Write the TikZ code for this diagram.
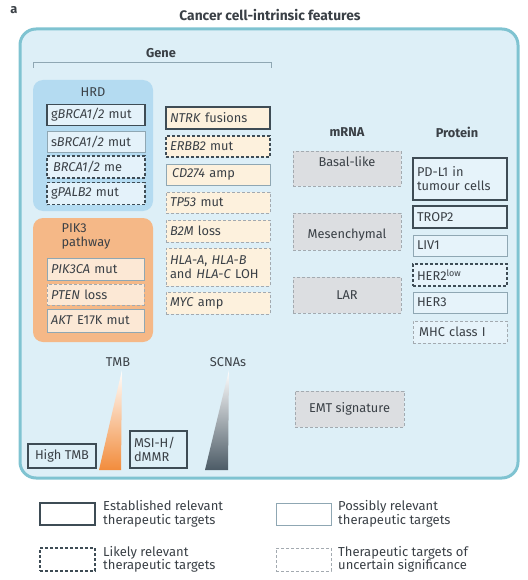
\documentclass[tikz,border=0pt]{standalone}
\usepackage{fontspec}
\setmainfont{Fira Sans}
\usetikzlibrary{shadings}
\definecolor{txt}{HTML}{3A4046}
\definecolor{dk}{HTML}{3E4C55}
\definecolor{lt}{HTML}{8FA7B3}
\definecolor{lg}{HTML}{A3AAB0}
\definecolor{bgfill}{HTML}{DDEFF7}
\definecolor{bgdraw}{HTML}{7FC3D1}
\definecolor{hrdfill}{HTML}{B4DBF1}
\definecolor{blbox}{HTML}{E4F2FA}
\definecolor{orbox}{HTML}{FDF1DD}
\definecolor{pkfill}{HTML}{F5B887}
\definecolor{pkbox}{HTML}{FCE8D5}
\definecolor{gybox}{HTML}{DCDEE1}
\definecolor{prbox}{HTML}{E6F3FA}
\definecolor{tmbor}{HTML}{F28C3C}
\definecolor{scna}{HTML}{4C5B66}
\tikzset{
  every node/.style={text=txt, font=\fontsize{12.8}{14}\selectfont, inner ysep=1pt, inner xsep=4pt},
  tgest/.style={draw=dk, line width=1.6pt},
  tgpos/.style={draw=lt, line width=0.8pt},
  tglik/.style={draw=dk, line width=1.6pt, dash pattern=on 3pt off 2pt},
  tgunc/.style={draw=lg, line width=0.7pt, dash pattern=on 3pt off 2pt},
  lbox/.style n args={2}{text width=#1, minimum height=#2, align=left},
  cbox/.style n args={2}{minimum width=#1, minimum height=#2, align=center},
  head/.style={font=\fontsize{12.8}{14}\selectfont\bfseries},
  legt/.style={anchor=west, align=left, font=\fontsize{13}{13.5}\selectfont, inner xsep=0pt},
}
\begin{document}
\begin{tikzpicture}[x=1pt,y=-1pt]
\useasboundingbox (0,0) rectangle (527,580);
% title
\node[head, inner sep=0pt] (lbl) at (14,10) {a};
\node[head, font=\fontsize{13.8}{15}\selectfont\bfseries] (title) at (270,15) {Cancer cell-intrinsic features};
% outer frame
\draw[bgdraw, fill=bgfill, line width=3pt, rounded corners=16pt] (20,29) rectangle (518,478);
% gene bracket
\node[head] (gene) at (161,53) {Gene};
\coordinate (bl) at (33,68);
\coordinate (br) at (271,68);
\draw[lt, line width=0.8pt] (bl) -- ++(0,-6) -| (br);
% HRD group
\fill[hrdfill, rounded corners=10pt] (33,80) rectangle (153,211);
\node (hrd) at (93,92) {HRD};
\node[tgest, fill=blbox, lbox={90pt}{21pt}] (gbrca) at (96,115) {g\textit{BRCA1/2} mut};
\node[tgpos, fill=blbox, lbox={90pt}{21pt}] (sbrca) at (96,141.5) {s\textit{BRCA1/2} mut};
\node[tglik, fill=blbox, lbox={90pt}{22pt}] (brcame) at (96,167) {\,\textit{BRCA1/2} me};
\node[tglik, fill=blbox, lbox={90pt}{22pt}] (palb) at (96,193.5) {g\textit{PALB2} mut};
% PIK3 group
\fill[pkfill, rounded corners=10pt] (33,218) rectangle (153,342);
\node[align=left] (pik3) at (86,236) {PIK3\\pathway};
\node[tgpos, fill=pkbox, lbox={89pt}{22pt}] (pik3ca) at (95.5,269) {\textit{PIK3CA} mut};
\node[tgunc, fill=pkbox, lbox={89pt}{21pt}] (pten) at (95.5,294.5) {\textit{PTEN} loss};
\node[tgpos, fill=pkbox, lbox={89pt}{23pt}] (akt) at (95.5,320.5) {\textit{AKT} E17K mut};
% gene column
\node[tgest, fill=orbox, lbox={96pt}{22pt}] (ntrk) at (218,118) {\textit{NTRK} fusions};
\node[tglik, fill=orbox, lbox={96pt}{21pt}] (erbb2) at (218,146.5) {\textit{ERBB2} mut};
\node[tgpos, fill=orbox, lbox={96pt}{21pt}] (cd274) at (218,174.5) {\,\textit{CD274} amp};
\node[tgunc, fill=orbox, lbox={96pt}{21pt}] (tp53) at (218,202.5) {\textit{TP53} mut};
\node[tgunc, fill=orbox, lbox={96pt}{22pt}] (b2m) at (218,231) {\textit{B2M} loss};
\node[tgunc, fill=orbox, lbox={96pt}{38pt}] (hla) at (218,267) {\textit{HLA-A}, \textit{HLA-B}\\and \textit{HLA-C} LOH};
\node[tgunc, fill=orbox, lbox={96pt}{22pt}] (myc) at (218,303) {\textit{MYC} amp};
% mRNA
\node[head] (mrna) at (347,132) {mRNA};
\node[tgunc, fill=gybox, cbox={108pt}{35pt}] (basal) at (347,168.5) {};
\node (basalt) at (347,162) {Basal-like};
\node[tgunc, fill=gybox, cbox={108pt}{37pt}] (mes) at (347,231.5) {};
\node (mest) at (347,235) {Mesenchymal};
\node[tgunc, fill=gybox, cbox={108pt}{36pt}] (lar) at (347,295) {LAR};
\node[tgunc, fill=gybox, cbox={109pt}{36pt}] (emt) at (349.5,409) {EMT signature};
% protein
\node[head] (prot) at (457,132) {Protein};
\node[tgest, fill=prbox, lbox={86pt}{42pt}] (pdl1) at (460,179) {PD-L1 in\\tumour cells};
\node[tgest, fill=prbox, lbox={86pt}{22pt}] (trop2) at (460,217) {TROP2};
\node[tgpos, fill=prbox, lbox={86pt}{21pt}] (liv1) at (460,245.5) {LIV1};
\node[tglik, fill=prbox, lbox={86pt}{22pt}] (her2) at (460,275) {HER2\textsuperscript{low}};
\node[tgpos, fill=prbox, lbox={86pt}{21pt}] (her3) at (460,302.5) {HER3};
\node[tgunc, fill=prbox, lbox={86pt}{22pt}] (mhc) at (460,332) {\,MHC class I};
% TMB / SCNAs
\node (tmb) at (118,362) {TMB};
\node (scnas) at (228,362) {SCNAs};
\shade[top color=white, bottom color=tmbor] (122,370) -- (121,470) -- (99,470) -- cycle;
\shade[top color=white, bottom color=scna] (229,370) -- (228,470) -- (205,470) -- cycle;
\node[tgest, cbox={68pt}{24pt}, inner xsep=2pt] (htmb) at (62,456) {High TMB};
\node[tgest, lbox={49pt}{37pt}] (msi) at (158.5,449.5) {MSI-H/\\dMMR};
% legend
\node[tgest, cbox={55pt}{22pt}] (lg1) at (67.5,514) {};
\node[legt] (lg1t) at (103,514) {Established relevant\\therapeutic targets};
\node[tgpos, cbox={55pt}{22pt}] (lg2) at (303.5,514) {};
\node[legt] (lg2t) at (338,514) {Possibly relevant\\therapeutic targets};
\node[tglik, cbox={55pt}{23pt}] (lg3) at (67.5,559.5) {};
\node[legt] (lg3t) at (103,559.5) {Likely relevant\\therapeutic targets};
\node[tgunc, cbox={55pt}{23pt}] (lg4) at (303.5,559.5) {};
\node[legt] (lg4t) at (338,559.5) {Therapeutic targets of\\uncertain significance};
\end{tikzpicture}
\end{document}
